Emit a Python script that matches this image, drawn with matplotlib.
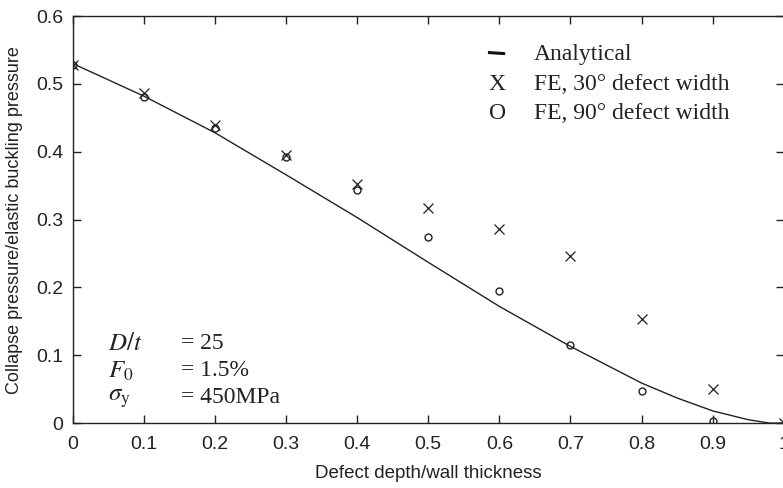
import numpy as np
import matplotlib
matplotlib.use("Agg")
import matplotlib.pyplot as plt

plt.rcParams['mathtext.fontset'] = 'stix'

# analytical curve
ana_x = [0.0, 0.1, 0.2, 0.3, 0.4, 0.5, 0.6, 0.7, 0.8, 0.85, 0.9, 0.95, 0.98, 1.0]
ana_y = [0.530, 0.482, 0.428, 0.366, 0.303, 0.237, 0.172, 0.113, 0.059, 0.037, 0.018, 0.005, 0.0, 0.0]

# FE results
fe_x = [0.0, 0.1, 0.2, 0.3, 0.4, 0.5, 0.6, 0.7, 0.8, 0.9]
fe30 = [0.528, 0.487, 0.440, 0.395, 0.353, 0.317, 0.286, 0.246, 0.153, 0.051]
fe90 = [0.528, 0.481, 0.435, 0.392, 0.344, 0.274, 0.195, 0.115, 0.047, 0.003]

x_ticks = [0, 0.1, 0.2, 0.3, 0.4, 0.5, 0.6, 0.7, 0.8, 0.9, 1.0]
x_labels = ["0", "0.1", "0.2", "0.3", "0.4", "0.5", "0.6", "0.7", "0.8", "0.9", "1"]
y_ticks = [0, 0.1, 0.2, 0.3, 0.4, 0.5, 0.6]
y_labels = ["0", "0.1", "0.2", "0.3", "0.4", "0.5", "0.6"]

sans = ['Liberation Sans', 'DejaVu Sans']
serif = ['Liberation Serif', 'DejaVu Serif']
ink = '#222222'

fig = plt.figure(figsize=(7.83, 4.88), dpi=100)
ax = fig.add_axes([0.093, 0.133, 0.908, 0.834])

ax.plot(ana_x, ana_y, color=ink, lw=1.0)
ax.plot(fe_x + [1.0], fe30 + [0.0], ls='none', marker='x', ms=7, mew=0.9, color=ink)
ax.plot(fe_x, fe90, ls='none', marker='o', ms=5, mew=1.0, mfc='none', color=ink)

ax.set_xlim(0, 1)
ax.set_ylim(0, 0.6)
ax.set_xticks(x_ticks)
ax.set_xticklabels(x_labels, family=sans, fontsize=14, color=ink)
ax.set_yticks(y_ticks)
ax.set_yticklabels(y_labels, family=sans, fontsize=14, color=ink)
ax.tick_params(direction='in', top=True, right=True, length=6, width=1.0,
               colors=ink)
ax.tick_params(axis='x', pad=9)
ax.tick_params(axis='y', pad=7)
for s in ax.spines.values():
    s.set_linewidth(1.0)
    s.set_color(ink)

ax.set_xlabel("Defect depth/wall thickness", family=sans, fontsize=13.5, color=ink, labelpad=9)
ax.set_ylabel("Collapse pressure/elastic buckling pressure", family=sans, fontsize=13,
              color=ink, labelpad=9)

# legend drawn as text rows
leg_rows = [("Analytical", 0.905), ("FE, 30\u00b0 defect width", 0.833), ("FE, 90\u00b0 defect width", 0.76)]
ax.plot([0.586, 0.606], [0.5462, 0.5448], color='#111111', lw=2.2, clip_on=False)
ax.text(0.585, leg_rows[1][1], "X", transform=ax.transAxes, family=serif, fontsize=17,
        va='center', color=ink)
ax.text(0.585, leg_rows[2][1], "O", transform=ax.transAxes, family=serif, fontsize=17,
        va='center', color=ink)
for lab, yy in leg_rows:
    ax.text(0.648, yy, lab, transform=ax.transAxes, family=serif, fontsize=17,
            va='center', color=ink)

# parameter block
params = [(r"$D/t$", "= 25", 0.196), (r"$F_0$", "= 1.5%", 0.129), (r"$\sigma_\mathrm{y}$", "= 450MPa", 0.062)]
for sym, val, yy in params:
    ax.text(0.049, yy, sym, transform=ax.transAxes, fontsize=18, va='center', color=ink)
    ax.text(0.152, yy, val, transform=ax.transAxes, family=serif, fontsize=17,
            va='center', color=ink)

fig.savefig("out.png", dpi=100)
